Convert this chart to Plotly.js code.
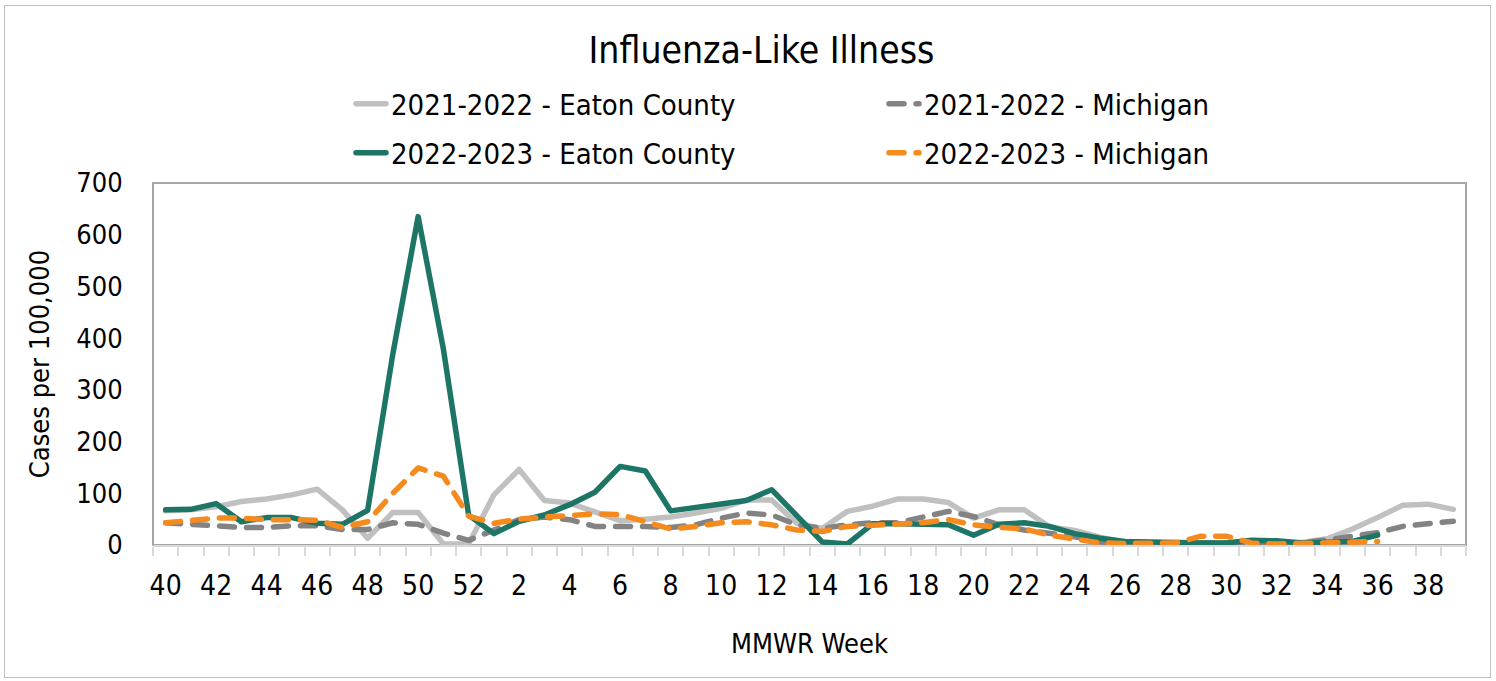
<!DOCTYPE html>
<html>
<head>
<meta charset="utf-8">
<script src="https://cdn.plot.ly/plotly-3.0.1.min.js"></script>
<style>
  html, body { margin: 0; padding: 0; background: #ffffff; }
  #wrap { position: relative; width: 1496px; height: 681px; }
  #chart { width: 1496px; height: 681px; }
  #frame { position: absolute; left: 4px; top: 5px; width: 1485px; height: 671px;
           border: 1px solid #bfbfbf; pointer-events: none; }
  .scatterlayer path.js-line, .legendlines path { stroke-linecap: round; stroke-linejoin: round; }
</style>
</head>
<body>
<div id="wrap">
  <div id="chart"></div>
  <div id="frame"></div>
</div>
<script>
// MMWR weeks (season runs week 40 through week 39)
const weeks = ["40","41","42","43","44","45","46","47","48","49","50","51","52",
  "1","2","3","4","5","6","7","8","9","10","11","12","13","14","15","16","17","18","19","20",
  "21","22","23","24","25","26","27","28","29","30","31","32","33","34","35","36","37","38","39"];

// tick labels shown on every other week
const tickLabels = ["40","42","44","46","48","50","52","2","4","6","8","10","12",
  "14","16","18","20","22","24","26","28","30","32","34","36","38"];

// 2021-2022 - Eaton County
const eaton2122 = [66,68,74,84,89,97,108,68,13,63,63,2,2,
  97,146,86,81,64,47,50,54,62,71,87,87,42,32,65,75,89,89,82,52,
  68,68,35,28,15,5,4,4,4,4,4,4,5,12,31,53,77,79,69];

// 2021-2022 - Michigan
const mich2122 = [43,39,37,34,34,37,37,30,30,43,40,23,9,
  29,49,54,49,36,37,36,34,39,52,62,58,39,32,39,43,43,54,65,55,
  39,29,23,16,6,4,3,3,3,3,3,3,4,10,16,24,36,41,46];

// 2022-2023 - Eaton County
const eaton2223 = [68,69,80,45,53,53,42,40,67,370,635,379,58,
  22,46,58,78,102,152,143,66,72,80,86,107,55,6,2,41,41,40,39,19,
  40,43,36,22,13,7,5,5,4,4,9,8,4,5,7,19,null,null,null];

// 2022-2023 - Michigan
const mich2223 = [43,47,52,52,49,49,48,34,45,100,149,133,56,
  42,50,54,56,60,59,45,31,36,43,45,39,29,26,36,39,41,43,49,39,
  34,31,19,11,4,3,3,4,17,17,4,2,3,4,6,7,null,null,null];

const seriesNames = ["2021-2022 - Eaton County","2021-2022 - Michigan",
                     "2022-2023 - Eaton County","2022-2023 - Michigan"];

// position of each week along the season axis (its order in the weeks list)
const weekPos = weeks.map((w, i) => i);
const tickPos = tickLabels.map(l => weeks.indexOf(l));

const FONT = '"DejaVu Sans Condensed", "DejaVu Sans", sans-serif';
const LW = 5.5;

const traces = [
  { x: weekPos, y: eaton2122, text: weeks, name: seriesNames[0], type: 'scatter', mode: 'lines',
    line: { color: '#c0c0c0', width: LW }, legend: 'legend' },
  { x: weekPos, y: mich2122, text: weeks, name: seriesNames[1], type: 'scatter', mode: 'lines',
    line: { color: '#838383', width: LW, dash: '15px,12px' }, legend: 'legend' },
  { x: weekPos, y: eaton2223, text: weeks, name: seriesNames[2], type: 'scatter', mode: 'lines',
    line: { color: '#1d7566', width: LW }, legend: 'legend2' },
  { x: weekPos, y: mich2223, text: weeks, name: seriesNames[3], type: 'scatter', mode: 'lines',
    line: { color: '#f58b1f', width: LW, dash: '15px,12px' }, legend: 'legend2' }
];

const legendCommon = {
  orientation: 'h', xref: 'container', yref: 'container',
  xanchor: 'left', yanchor: 'middle',
  font: { family: FONT, size: 29, color: '#000000' },
  entrywidth: 488, entrywidthmode: 'pixels',
  bgcolor: 'rgba(0,0,0,0)', borderwidth: 0, traceorder: 'normal'
};

const layout = {
  width: 1496, height: 681,
  margin: { l: 153, r: 30, t: 183, b: 136 },
  paper_bgcolor: '#ffffff', plot_bgcolor: '#ffffff',
  font: { family: FONT, size: 27, color: '#000000' },
  title: { text: 'Influenza-Like Illness', font: { family: FONT, size: 37, color: '#000000' },
           x: 0.509, xref: 'container', xanchor: 'center', y: 1 - 50/681, yref: 'container', yanchor: 'middle' },
  showlegend: true,
  legend: Object.assign({}, legendCommon, { x: 351/1496, y: 1 - 104/681 }),
  legend2: Object.assign({}, legendCommon, { x: 351/1496, y: 1 - 153/681 }),
  xaxis: {
    type: 'linear', range: [-0.5, weeks.length - 0.5],
    tickmode: 'array', tickvals: tickPos, ticktext: tickLabels, tickangle: 0,
    ticks: '', ticklabelstandoff: 14,
    minor: { ticks: 'outside', tick0: -0.5, dtick: 1, ticklen: 9, tickcolor: '#d9d9d9', tickwidth: 2, showgrid: false },
    showline: true, linecolor: '#d9d9d9', linewidth: 2,
    showgrid: false, zeroline: false,
    tickfont: { family: FONT, size: 28, color: '#000000' },
    title: { text: 'MMWR Week', font: { family: FONT, size: 27, color: '#000000' }, standoff: 34 },
    fixedrange: true
  },
  yaxis: {
    range: [0, 700], dtick: 100, tick0: 0,
    showgrid: false, zeroline: false, showline: false,
    ticks: 'outside', ticklen: 24, tickcolor: 'rgba(0,0,0,0)',
    tickfont: { family: FONT, size: 27, color: '#000000' },
    title: { text: 'Cases per 100,000', font: { family: FONT, size: 27, color: '#000000' }, standoff: 18 },
    fixedrange: true
  },
  shapes: [
    { type: 'rect', xref: 'paper', yref: 'paper', x0: 0, x1: 1, y0: 0, y1: 1,
      line: { color: '#a6a6a6', width: 2 }, fillcolor: 'rgba(0,0,0,0)', layer: 'below' }
  ]
};

Plotly.newPlot('chart', traces, layout, { displayModeBar: false, staticPlot: true });
</script>
</body>
</html>
